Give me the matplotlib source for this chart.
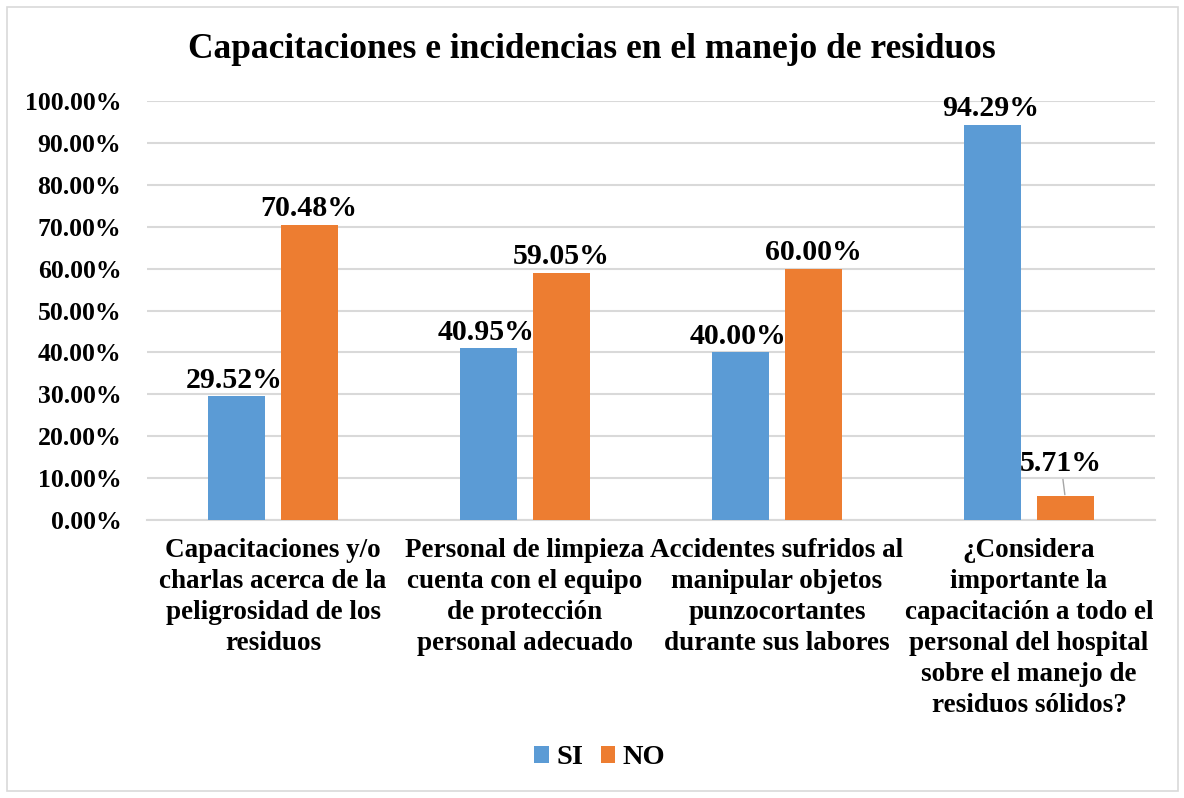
import matplotlib
matplotlib.use("Agg")
import matplotlib.pyplot as plt
import numpy as np
from matplotlib.patches import Rectangle

categories = [
    "Capacitaciones y/o\ncharlas acerca de la\npeligrosidad de los\nresiduos",
    "Personal de limpieza\ncuenta con el equipo\nde protección\npersonal adecuado",
    "Accidentes sufridos al\nmanipular objetos\npunzocortantes\ndurante sus labores",
    "¿Considera\nimportante la\ncapacitación a todo el\npersonal del hospital\nsobre el manejo de\nresiduos sólidos?",
]
si_values = [29.52, 40.95, 40.00, 94.29]
no_values = [70.48, 59.05, 60.00, 5.71]
series_names = ["SI", "NO"]
yticks = [0, 10, 20, 30, 40, 50, 60, 70, 80, 90, 100]

BLUE = "#5B9BD5"
ORANGE = "#ED7D31"
plt.rcParams['font.family'] = ['Liberation Serif', 'DejaVu Serif']

fig = plt.figure(figsize=(11.84, 7.98), dpi=100)
fig.patches.append(Rectangle((7/1184, 1-791/798), 1171/1184, 784/798, transform=fig.transFigure,
                             fill=False, edgecolor="#D9D9D9", linewidth=1.2))
ax = fig.add_axes([147/1184, 1-520/798, 1008/1184, 419/798])

x = np.arange(len(categories))
w = 0.226
gap = 0.06
off = (w + gap) / 2
b1 = ax.bar(x - off, si_values, w, color=BLUE, label=series_names[0], zorder=3)
b2 = ax.bar(x + off, no_values, w, color=ORANGE, label=series_names[1], zorder=3)

ax.set_xlim(-0.5, len(categories) - 0.5)
ax.set_ylim(0, 100)
ax.set_yticks(yticks)
ax.set_yticklabels([f"{v:.2f}%" for v in yticks], fontsize=18.5, fontweight="bold")
ax.tick_params(axis='y', length=0, pad=18.5)
ax.set_xticks(x)
ax.set_xticklabels(categories, fontsize=19.5, fontweight="bold", linespacing=1.31)
ax.tick_params(axis='x', length=0, pad=13)
ax.grid(axis='y', color="#D9D9D9", linewidth=1.5, zorder=0)
for s in ["left", "right", "top"]:
    ax.spines[s].set_visible(False)
ax.spines["bottom"].set_color("#D9D9D9")
ax.spines["bottom"].set_linewidth(1.5)

for xi, v in zip(x - off, si_values):
    ax.annotate(f"{v:.2f}%", (xi, v), xytext=(-2, 2), textcoords="offset points",
                ha="center", va="bottom", fontsize=21.5, fontweight="bold")
for i, (xi, v) in enumerate(zip(x + off, no_values)):
    if v < 10:
        ax.annotate(f"{v:.2f}%", (xi, v), xytext=(-3, 14), textcoords="offset points",
                    ha="center", va="bottom", fontsize=21.5, fontweight="bold",
                    arrowprops=dict(arrowstyle="-", color="#A6A6A6", lw=1,
                                    shrinkA=0, shrinkB=1))
    else:
        ax.annotate(f"{v:.2f}%", (xi, v), xytext=(0, 2), textcoords="offset points",
                    ha="center", va="bottom", fontsize=21.5, fontweight="bold")

fig.text(0.5, 1-50/798, "Capacitaciones e incidencias en el manejo de residuos",
         ha="center", va="center", fontsize=25.5, fontweight="bold")

fig.legend(handles=[b1, b2], labels=series_names, loc="center", bbox_to_anchor=(600/1184, 1-758/798),
           ncol=2, frameon=False, prop={'size': 20.5, 'weight': 'bold'},
           handlelength=0.5, handleheight=0.5, handletextpad=0.28, columnspacing=0.6)

fig.savefig("out.png", dpi=100)
